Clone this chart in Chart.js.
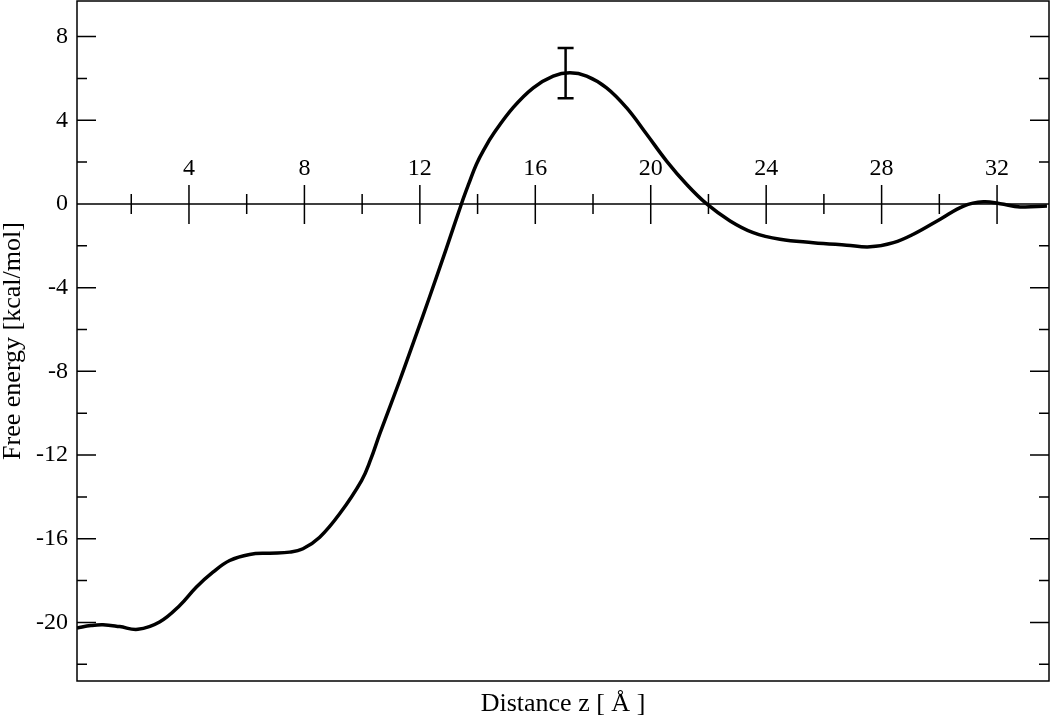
<!DOCTYPE html>
<html>
<head>
<meta charset="utf-8">
<script src="https://cdn.jsdelivr.net/npm/chart.js@4"></script>
<style>
    html, body { margin: 0; padding: 0; background: #fff; }
    #wrap { width: 1050px; height: 721px; }
</style>
</head>
<body>
<div id="wrap"><canvas id="pmf-chart" width="1050" height="721"></canvas></div>
<script>
// distance z [A] and free energy [kcal/mol]
const zValues = [0.12, 0.6, 1.02, 1.6, 2.23, 2.98, 3.68, 4.25, 4.83, 5.41, 6.1, 6.8, 7.49, 7.95, 8.53,
    9.22, 9.98, 10.3, 10.61, 11.3, 11.88, 12.33, 12.89, 13.44, 13.7, 13.96, 14.25, 14.54, 15.23, 15.93,
    16.62, 17.2, 17.78, 18.47, 19.16, 19.86, 20.55, 21.24, 21.94, 22.75, 23.55, 24.48, 25.63, 26.79,
    27.6, 28.41, 29.1, 30.03, 30.84, 31.53, 32.11, 32.8, 33.73];
const energy = [-20.27, -20.15, -20.11, -20.2, -20.33, -19.98, -19.19, -18.32, -17.6, -17.04, -16.75,
    -16.69, -16.64, -16.48, -15.93, -14.81, -13.22, -12.2, -10.99, -8.45, -6.22, -4.47, -2.24, 0, 0.98,
    1.9, 2.67, 3.33, 4.6, 5.55, 6.11, 6.27, 6.11, 5.55, 4.6, 3.33, 2.05, 0.94, 0, -0.81, -1.37, -1.69,
    -1.85, -1.97, -2.05, -1.85, -1.45, -0.73, -0.1, 0.1, 0.01, -0.14, -0.1];

// error bar at the barrier top
const errZ = [17.05];
const errLow = [5.05];
const errHigh = [7.45];

// tick labels
const xMajorTicks = [4, 8, 12, 16, 20, 24, 28, 32];
const xMinorTicks = [2, 6, 10, 14, 18, 22, 26, 30];
const yMajorTicks = [8, 4, 0, -4, -8, -12, -16, -20];
const yMinorTicks = [6, 2, -2, -6, -10, -14, -18, -22];

const SERIF = '"Liberation Serif", "Times New Roman", serif';

const axesPlugin = {
    id: 'xmgrAxes',
    beforeDatasetsDraw(chart) {
        const { ctx, chartArea: a, scales: { x, y } } = chart;
        const y0 = y.getPixelForValue(0);
        ctx.save();
        ctx.strokeStyle = '#000';
        ctx.lineWidth = 1.5;

        // zero line with ticks both ways
        ctx.beginPath();
        ctx.moveTo(a.left, y0);
        ctx.lineTo(a.right, y0);
        xMajorTicks.forEach(v => {
            const px = x.getPixelForValue(v);
            ctx.moveTo(px, y0 - 19);
            ctx.lineTo(px, y0 + 20);
        });
        xMinorTicks.forEach(v => {
            const px = x.getPixelForValue(v);
            ctx.moveTo(px, y0 - 10);
            ctx.lineTo(px, y0 + 10);
        });
        // inward ticks on left and right edges
        yMajorTicks.forEach(v => {
            const py = y.getPixelForValue(v);
            ctx.moveTo(a.left, py);
            ctx.lineTo(a.left + 19, py);
            ctx.moveTo(a.right, py);
            ctx.lineTo(a.right - 19, py);
        });
        yMinorTicks.forEach(v => {
            const py = y.getPixelForValue(v);
            ctx.moveTo(a.left, py);
            ctx.lineTo(a.left + 10, py);
            ctx.moveTo(a.right, py);
            ctx.lineTo(a.right - 10, py);
        });
        ctx.stroke();

        // x labels sit above the zero line
        ctx.fillStyle = '#000';
        ctx.font = '24px ' + SERIF;
        ctx.textAlign = 'center';
        ctx.textBaseline = 'middle';
        xMajorTicks.forEach(v => {
            ctx.fillText(String(v), x.getPixelForValue(v), y0 - 35);
        });
        ctx.restore();
    },
    afterDatasetsDraw(chart) {
        const { ctx, chartArea: a, scales: { x, y } } = chart;
        ctx.save();
        ctx.strokeStyle = '#000';

        // error bar
        ctx.lineWidth = 2.5;
        ctx.beginPath();
        errZ.forEach((z, i) => {
            const px = x.getPixelForValue(z);
            const top = y.getPixelForValue(errHigh[i]);
            const bot = y.getPixelForValue(errLow[i]);
            ctx.moveTo(px, top);
            ctx.lineTo(px, bot);
            ctx.moveTo(px - 8, top);
            ctx.lineTo(px + 8, top);
            ctx.moveTo(px - 8, bot);
            ctx.lineTo(px + 8, bot);
        });
        ctx.stroke();

        // frame
        ctx.lineWidth = 1.5;
        ctx.strokeRect(a.left, a.top, a.right - a.left, a.bottom - a.top);
        ctx.restore();
    }
};

new Chart(document.getElementById('pmf-chart').getContext('2d'), {
    type: 'line',
    data: {
        datasets: [{
            data: zValues.map((z, i) => ({ x: z, y: energy[i] })),
            borderColor: '#000',
            borderWidth: 3.5,
            pointRadius: 0,
            fill: false,
            tension: 0.4
        }]
    },
    options: {
        responsive: false,
        animation: false,
        layout: { padding: { top: 1, right: 1, left: 0, bottom: 0 } },
        plugins: { legend: { display: false }, tooltip: { enabled: false } },
        scales: {
            x: {
                type: 'linear',
                min: 0.12,
                max: 33.8,
                grid: { display: false, drawTicks: false },
                border: { display: false },
                ticks: { display: false },
                title: {
                    display: true,
                    text: 'Distance z [ Å ]',
                    color: '#000',
                    font: { family: SERIF, size: 26, lineHeight: 1 },
                    padding: { top: 0, bottom: 4 }
                },
                afterFit(scale) {
                    scale.height = 40;
                    scale.paddingLeft = 0;
                    scale.paddingRight = 0;
                }
            },
            y: {
                min: -22.8,
                max: 9.7,
                grid: { display: false, drawTicks: false },
                border: { display: false },
                afterBuildTicks(scale) {
                    scale.ticks = yMajorTicks.map(v => ({ value: v }));
                },
                ticks: {
                    color: '#000',
                    padding: 9,
                    font: { family: SERIF, size: 24 },
                    callback: v => String(v)
                },
                title: {
                    display: true,
                    text: 'Free energy [kcal/mol]',
                    color: '#000',
                    font: { family: SERIF, size: 26, lineHeight: 1 },
                    padding: 0
                },
                afterFit(scale) {
                    scale.width = 77;
                    scale.paddingTop = 0;
                    scale.paddingBottom = 0;
                }
            }
        }
    },
    plugins: [axesPlugin]
});
</script>
</body>
</html>
